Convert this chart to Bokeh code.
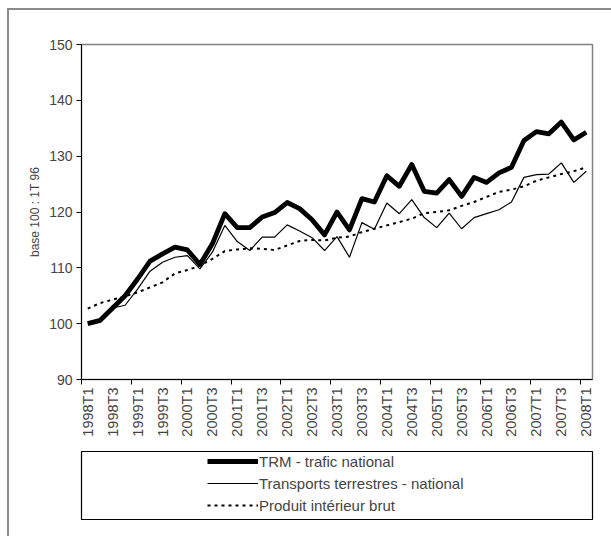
import math
from bokeh.plotting import figure
from bokeh.layouts import column, row
from bokeh.models import (Range1d, FixedTicker, Legend, LegendItem, ColumnDataSource, Spacer)
from bokeh.embed import file_html
from bokeh.resources import INLINE

quarters = [f"{y}T{q}" for y in range(1998, 2009) for q in (1, 2, 3, 4)][:41]

trm = [100.0, 100.6, 102.8, 105.0, 108.0, 111.2, 112.5, 113.7, 113.2, 110.6,
       114.3, 119.7, 117.2, 117.2, 119.1, 119.9, 121.7, 120.6, 118.6, 115.9,
       120.0, 116.8, 122.4, 121.8, 126.5, 124.6, 128.5, 123.7, 123.4, 125.8,
       122.8, 126.2, 125.3, 127.0, 128.0, 132.8, 134.4, 134.0, 136.1, 132.9,
       134.3]
transports = [100.0, 100.5, 102.8, 103.3, 106.2, 109.4, 111.0, 111.9, 112.2, 109.8,
              112.8, 117.6, 114.7, 113.1, 115.5, 115.5, 117.7, 116.6, 115.4, 113.1,
              115.6, 111.9, 118.1, 116.9, 121.6, 119.7, 122.2, 119.0, 117.2, 119.8,
              117.0, 119.0, 119.7, 120.4, 121.8, 126.2, 126.7, 126.8, 128.8, 125.3,
              127.3]
pib = [102.7, 103.7, 104.3, 104.9, 105.6, 106.5, 107.4, 109.0, 109.6, 110.4,
       111.6, 113.0, 113.3, 113.5, 113.4, 113.2, 114.0, 114.8, 115.0, 114.9,
       115.4, 115.6, 116.4, 117.0, 117.6, 118.2, 118.8, 119.8, 120.0, 120.3,
       121.1, 121.8, 122.7, 123.6, 124.0, 124.6, 125.6, 126.2, 126.8, 127.3,
       128.0]
series_names = ["TRM - trafic national", "Transports terrestres - national",
                "Produit intérieur brut"]
y_ticks = [90, 100, 110, 120, 130, 140, 150]

FONT = "Liberation Sans"
GRAY = "#8a8a8a"
W = 602          # width of the figures (page x 9 .. 611)
H1 = 441         # chart figure: page y 10 .. 451
H2 = 85          # legend figure: page y 451 .. 536

styles = dict(
    trm=dict(line_color="black", line_width=4.8, line_join="round"),
    tr=dict(line_color="black", line_width=1.2),
    pib=dict(line_color="black", line_width=2, line_dash="3 4"),
)

x = list(range(len(quarters)))
src = ColumnDataSource(dict(x=x, trm=trm, tr=transports, pib=pib))

p = figure(width=W, height=H1, output_backend="svg", toolbar_location=None,
           x_range=Range1d(-0.5, len(quarters) - 0.5), y_range=Range1d(90, 150),
           min_border_left=72, min_border_right=18, min_border_top=34,
           min_border_bottom=72)
p.background_fill_color = "white"
p.border_fill_color = "white"
p.outline_line_color = "#808080"
p.outline_line_width = 1.5
p.xgrid.visible = False
p.ygrid.visible = False

p.line("x", "pib", source=src, **styles["pib"])
p.line("x", "tr", source=src, **styles["tr"])
p.line("x", "trm", source=src, **styles["trm"])

# y axis
ya = p.yaxis[0]
ya.ticker = FixedTicker(ticks=y_ticks)
ya.axis_label = "base 100 : 1T 96"
ya.axis_label_text_font = FONT
ya.axis_label_text_font_size = "12px"
ya.axis_label_text_font_style = "normal"
ya.axis_label_standoff = 4
ya.major_label_text_font = FONT
ya.major_label_text_font_size = "14px"
ya.major_tick_out = 5
ya.major_tick_in = 0
ya.minor_tick_out = 0
ya.minor_tick_in = 0
ya.major_label_standoff = 4
ya.axis_line_color = "black"

# x axis
xa = p.xaxis[0]
label_pos = list(range(0, len(quarters), 2))
tick_pos = [i - 0.5 for i in range(0, len(quarters) + 1, 4)]
xa.ticker = FixedTicker(ticks=label_pos, minor_ticks=tick_pos)
xa.major_label_overrides = {i: quarters[i] for i in label_pos}
xa.major_label_orientation = math.pi / 2
xa.major_label_text_font = FONT
xa.major_label_text_font_size = "14.5px"
xa.major_tick_out = 0
xa.major_tick_in = 0
xa.minor_tick_out = 5
xa.minor_tick_in = 0
xa.minor_tick_line_color = "black"
xa.major_label_standoff = 3
xa.axis_line_color = "black"

# legend figure (its frame is the legend box)
p2 = figure(width=W, height=H2, output_backend="svg", toolbar_location=None,
            x_range=Range1d(-0.5, len(quarters) - 0.5), y_range=Range1d(0, 1),
            min_border_left=72, min_border_right=19, min_border_top=0,
            min_border_bottom=H2 - 68)
p2.axis.visible = False
p2.grid.visible = False
p2.outline_line_color = "black"
p2.outline_line_width = 1.2
p2.border_fill_color = "white"
# series drawn out of this frame's y range: only their legend samples show
rs = [p2.line("x", k, source=src, **styles[k]) for k in ("trm", "tr", "pib")]
legend = Legend(items=[LegendItem(label=n, renderers=[r]) for n, r in zip(series_names, rs)],
                location=(126, 4), padding=0, spacing=2,
                glyph_width=51, glyph_height=20, label_height=20,
                label_standoff=1, label_text_font=FONT,
                label_text_font_size="15px", border_line_alpha=0,
                background_fill_alpha=0, margin=0)
p2.add_layout(legend, "center")

vbar = Spacer(width=2, height=528, styles={"background-color": GRAY})
hbar = Spacer(width=W, height=2, styles={"background-color": GRAY})
layout = column(Spacer(width=611, height=8),
                row(Spacer(width=7, height=528), vbar, column(hbar, p, p2)))

open("out.html", "w").write(file_html(layout, INLINE))
